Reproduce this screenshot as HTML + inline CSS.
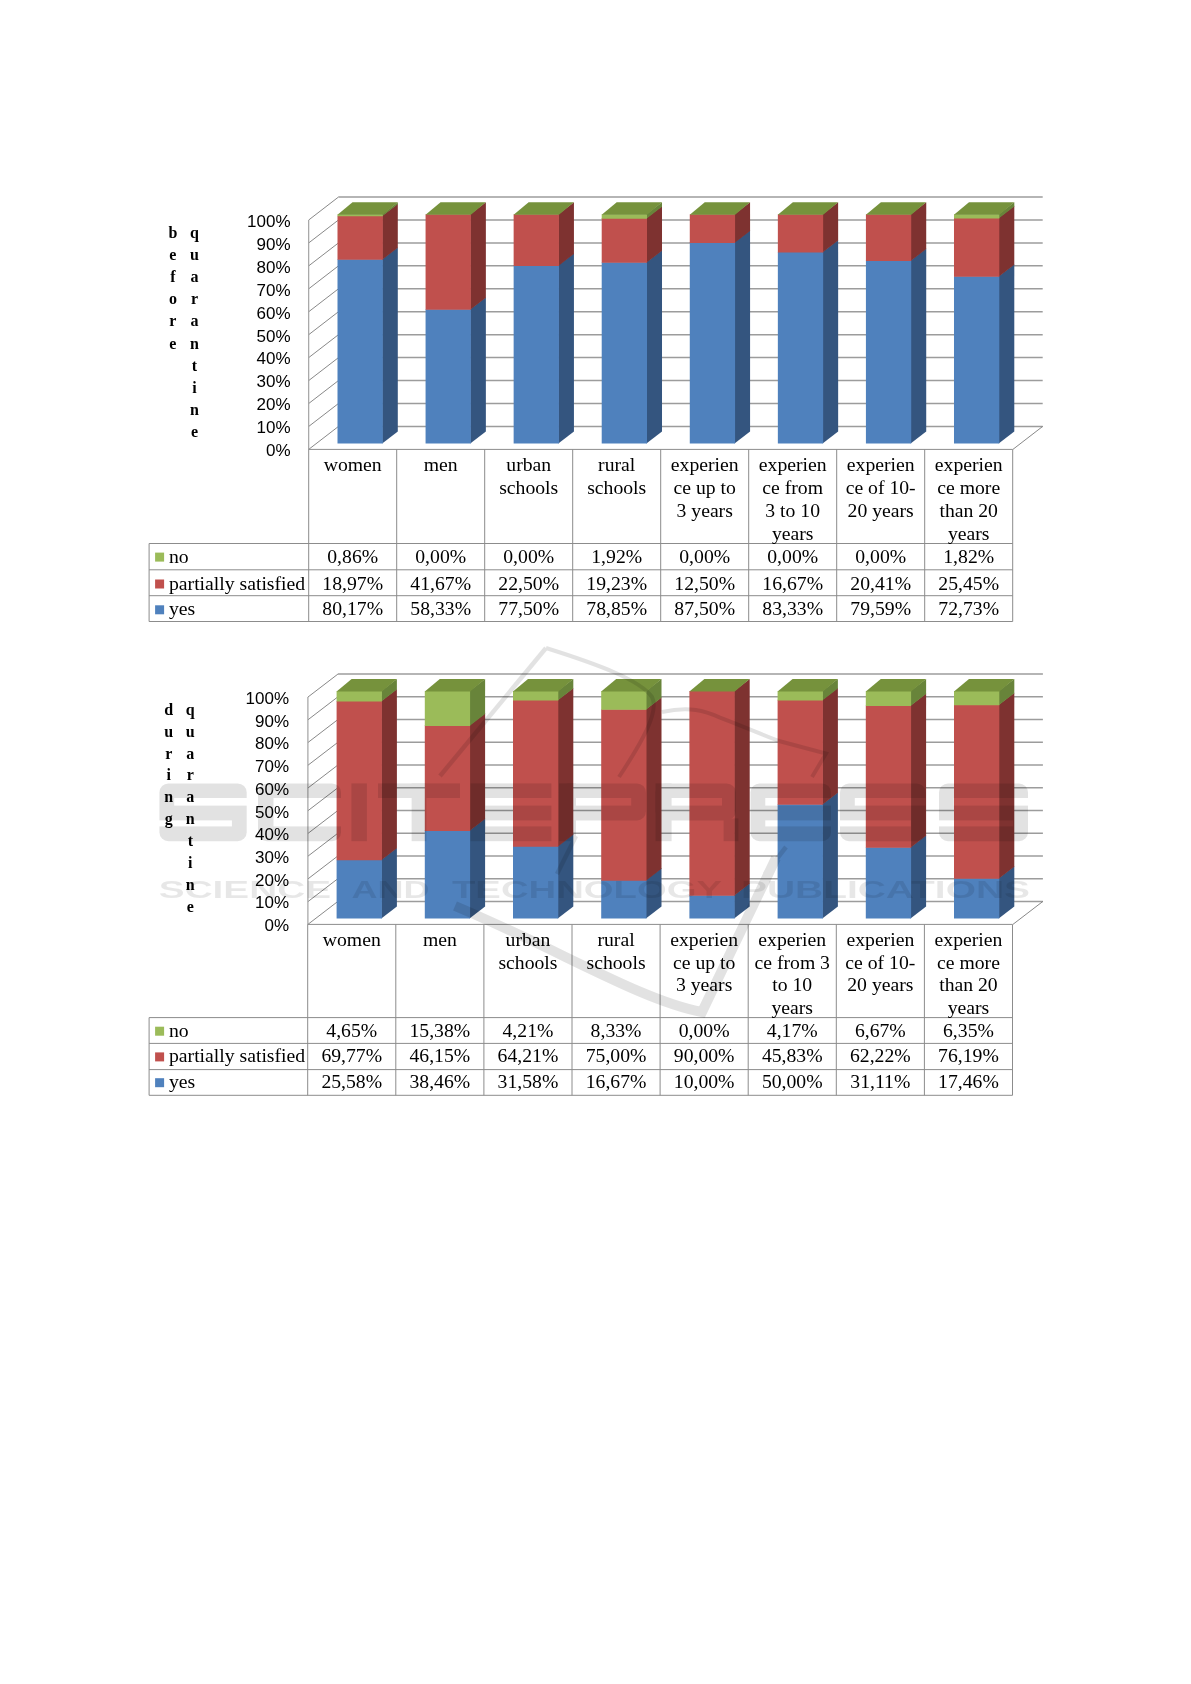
<!DOCTYPE html>
<html><head><meta charset="utf-8"><style>
html,body{margin:0;padding:0;background:#fff;}
svg{display:block;will-change:transform;}
.ax{font-family:"Liberation Sans",sans-serif;font-size:17px;fill:#000;}
.vw{font-family:"Liberation Serif",serif;font-size:16px;font-weight:bold;fill:#000;}
.tb{font-family:"Liberation Serif",serif;font-size:19.7px;fill:#000;}
</style></head><body>
<svg width="1191" height="1684" viewBox="0 0 1191 1684">
<rect width="1191" height="1684" fill="#fff"/>
<line x1="338.5" y1="426.4" x2="1042.7" y2="426.4" stroke="#9C9C9C" stroke-width="1.5"/>
<line x1="338.5" y1="403.46" x2="1042.7" y2="403.46" stroke="#9C9C9C" stroke-width="1.5"/>
<line x1="338.5" y1="380.52" x2="1042.7" y2="380.52" stroke="#9C9C9C" stroke-width="1.5"/>
<line x1="338.5" y1="357.58" x2="1042.7" y2="357.58" stroke="#9C9C9C" stroke-width="1.5"/>
<line x1="338.5" y1="334.64" x2="1042.7" y2="334.64" stroke="#9C9C9C" stroke-width="1.5"/>
<line x1="338.5" y1="311.7" x2="1042.7" y2="311.7" stroke="#9C9C9C" stroke-width="1.5"/>
<line x1="338.5" y1="288.76" x2="1042.7" y2="288.76" stroke="#9C9C9C" stroke-width="1.5"/>
<line x1="338.5" y1="265.82" x2="1042.7" y2="265.82" stroke="#9C9C9C" stroke-width="1.5"/>
<line x1="338.5" y1="242.88" x2="1042.7" y2="242.88" stroke="#9C9C9C" stroke-width="1.5"/>
<line x1="338.5" y1="219.94" x2="1042.7" y2="219.94" stroke="#9C9C9C" stroke-width="1.5"/>
<line x1="338.5" y1="197" x2="1042.7" y2="197" stroke="#9C9C9C" stroke-width="1.5"/>
<line x1="308.7" y1="449.4" x2="338.5" y2="426.4" stroke="#7A7A7A" stroke-width="0.9"/>
<line x1="308.7" y1="426.46" x2="338.5" y2="403.46" stroke="#7A7A7A" stroke-width="0.9"/>
<line x1="308.7" y1="403.52" x2="338.5" y2="380.52" stroke="#7A7A7A" stroke-width="0.9"/>
<line x1="308.7" y1="380.58" x2="338.5" y2="357.58" stroke="#7A7A7A" stroke-width="0.9"/>
<line x1="308.7" y1="357.64" x2="338.5" y2="334.64" stroke="#7A7A7A" stroke-width="0.9"/>
<line x1="308.7" y1="334.7" x2="338.5" y2="311.7" stroke="#7A7A7A" stroke-width="0.9"/>
<line x1="308.7" y1="311.76" x2="338.5" y2="288.76" stroke="#7A7A7A" stroke-width="0.9"/>
<line x1="308.7" y1="288.82" x2="338.5" y2="265.82" stroke="#7A7A7A" stroke-width="0.9"/>
<line x1="308.7" y1="265.88" x2="338.5" y2="242.88" stroke="#7A7A7A" stroke-width="0.9"/>
<line x1="308.7" y1="242.94" x2="338.5" y2="219.94" stroke="#7A7A7A" stroke-width="0.9"/>
<line x1="308.7" y1="220" x2="338.5" y2="197" stroke="#7A7A7A" stroke-width="0.9"/>
<line x1="308.7" y1="449.4" x2="308.7" y2="220" stroke="#9A9A9A" stroke-width="1.1"/>
<line x1="1012.9" y1="449.4" x2="1042.7" y2="426.4" stroke="#7A7A7A" stroke-width="0.9"/>
<polygon points="382.2,443.6 397.8,431.6 397.8,247.17 382.2,259.17" fill="#34557F"/>
<polygon points="337.5,443.6 382.8,443.6 382.8,259.17 337.5,259.17" fill="#4F81BD"/>
<polygon points="382.2,259.77 397.8,247.77 397.8,203.67 382.2,215.67" fill="#7E3230"/>
<polygon points="337.5,259.77 382.8,259.77 382.8,215.67 337.5,215.67" fill="#C0504D"/>
<polygon points="382.2,216.27 397.8,204.27 397.8,202.3 382.2,214.3" fill="#68843A"/>
<polygon points="337.5,216.27 382.8,216.27 382.8,214.3 337.5,214.3" fill="#9BBB59"/>
<polygon points="337.5,214.8 382.8,214.8 397.8,202.3 352.5,202.3" fill="#76923C"/>
<polygon points="470.27,443.6 485.87,431.6 485.87,297.25 470.27,309.25" fill="#34557F"/>
<polygon points="425.57,443.6 470.87,443.6 470.87,309.25 425.57,309.25" fill="#4F81BD"/>
<polygon points="470.27,309.85 485.87,297.85 485.87,202.3 470.27,214.3" fill="#7E3230"/>
<polygon points="425.57,309.85 470.87,309.85 470.87,214.3 425.57,214.3" fill="#C0504D"/>
<polygon points="425.57,214.8 470.87,214.8 485.87,202.3 440.57,202.3" fill="#76923C"/>
<polygon points="558.34,443.6 573.94,431.6 573.94,253.29 558.34,265.29" fill="#34557F"/>
<polygon points="513.64,443.6 558.94,443.6 558.94,265.29 513.64,265.29" fill="#4F81BD"/>
<polygon points="558.34,265.89 573.94,253.89 573.94,202.3 558.34,214.3" fill="#7E3230"/>
<polygon points="513.64,265.89 558.94,265.89 558.94,214.3 513.64,214.3" fill="#C0504D"/>
<polygon points="513.64,214.8 558.94,214.8 573.94,202.3 528.64,202.3" fill="#76923C"/>
<polygon points="646.41,443.6 662.01,431.6 662.01,250.2 646.41,262.2" fill="#34557F"/>
<polygon points="601.71,443.6 647.01,443.6 647.01,262.2 601.71,262.2" fill="#4F81BD"/>
<polygon points="646.41,262.8 662.01,250.8 662.01,206.1 646.41,218.1" fill="#7E3230"/>
<polygon points="601.71,262.8 647.01,262.8 647.01,218.1 601.71,218.1" fill="#C0504D"/>
<polygon points="646.41,218.7 662.01,206.7 662.01,202.3 646.41,214.3" fill="#68843A"/>
<polygon points="601.71,218.7 647.01,218.7 647.01,214.3 601.71,214.3" fill="#9BBB59"/>
<polygon points="601.71,214.8 647.01,214.8 662.01,202.3 616.71,202.3" fill="#76923C"/>
<polygon points="734.48,443.6 750.08,431.6 750.08,230.36 734.48,242.36" fill="#34557F"/>
<polygon points="689.78,443.6 735.08,443.6 735.08,242.36 689.78,242.36" fill="#4F81BD"/>
<polygon points="734.48,242.96 750.08,230.96 750.08,202.3 734.48,214.3" fill="#7E3230"/>
<polygon points="689.78,242.96 735.08,242.96 735.08,214.3 689.78,214.3" fill="#C0504D"/>
<polygon points="689.78,214.8 735.08,214.8 750.08,202.3 704.78,202.3" fill="#76923C"/>
<polygon points="822.55,443.6 838.15,431.6 838.15,239.92 822.55,251.92" fill="#34557F"/>
<polygon points="777.85,443.6 823.15,443.6 823.15,251.92 777.85,251.92" fill="#4F81BD"/>
<polygon points="822.55,252.52 838.15,240.52 838.15,202.3 822.55,214.3" fill="#7E3230"/>
<polygon points="777.85,252.52 823.15,252.52 823.15,214.3 777.85,214.3" fill="#C0504D"/>
<polygon points="777.85,214.8 823.15,214.8 838.15,202.3 792.85,202.3" fill="#76923C"/>
<polygon points="910.62,443.6 926.22,431.6 926.22,248.5 910.62,260.5" fill="#34557F"/>
<polygon points="865.92,443.6 911.22,443.6 911.22,260.5 865.92,260.5" fill="#4F81BD"/>
<polygon points="910.62,261.1 926.22,249.1 926.22,202.3 910.62,214.3" fill="#7E3230"/>
<polygon points="865.92,261.1 911.22,261.1 911.22,214.3 865.92,214.3" fill="#C0504D"/>
<polygon points="865.92,214.8 911.22,214.8 926.22,202.3 880.92,202.3" fill="#76923C"/>
<polygon points="998.69,443.6 1014.29,431.6 1014.29,264.23 998.69,276.23" fill="#34557F"/>
<polygon points="953.99,443.6 999.29,443.6 999.29,276.23 953.99,276.23" fill="#4F81BD"/>
<polygon points="998.69,276.83 1014.29,264.83 1014.29,205.87 998.69,217.87" fill="#7E3230"/>
<polygon points="953.99,276.83 999.29,276.83 999.29,217.87 953.99,217.87" fill="#C0504D"/>
<polygon points="998.69,218.47 1014.29,206.47 1014.29,202.3 998.69,214.3" fill="#68843A"/>
<polygon points="953.99,218.47 999.29,218.47 999.29,214.3 953.99,214.3" fill="#9BBB59"/>
<polygon points="953.99,214.8 999.29,214.8 1014.29,202.3 968.99,202.3" fill="#76923C"/>
<text x="290.5" y="456.2" text-anchor="end" class="ax">0%</text>
<text x="290.5" y="433.26" text-anchor="end" class="ax">10%</text>
<text x="290.5" y="410.32" text-anchor="end" class="ax">20%</text>
<text x="290.5" y="387.38" text-anchor="end" class="ax">30%</text>
<text x="290.5" y="364.44" text-anchor="end" class="ax">40%</text>
<text x="290.5" y="341.5" text-anchor="end" class="ax">50%</text>
<text x="290.5" y="318.56" text-anchor="end" class="ax">60%</text>
<text x="290.5" y="295.62" text-anchor="end" class="ax">70%</text>
<text x="290.5" y="272.68" text-anchor="end" class="ax">80%</text>
<text x="290.5" y="249.74" text-anchor="end" class="ax">90%</text>
<text x="290.5" y="226.8" text-anchor="end" class="ax">100%</text>
<text x="172.9" y="237.6" text-anchor="middle" class="vw">b</text>
<text x="172.9" y="259.78" text-anchor="middle" class="vw">e</text>
<text x="172.9" y="281.96" text-anchor="middle" class="vw">f</text>
<text x="172.9" y="304.14" text-anchor="middle" class="vw">o</text>
<text x="172.9" y="326.32" text-anchor="middle" class="vw">r</text>
<text x="172.9" y="348.5" text-anchor="middle" class="vw">e</text>
<text x="194.5" y="237.6" text-anchor="middle" class="vw">q</text>
<text x="194.5" y="259.78" text-anchor="middle" class="vw">u</text>
<text x="194.5" y="281.96" text-anchor="middle" class="vw">a</text>
<text x="194.5" y="304.14" text-anchor="middle" class="vw">r</text>
<text x="194.5" y="326.32" text-anchor="middle" class="vw">a</text>
<text x="194.5" y="348.5" text-anchor="middle" class="vw">n</text>
<text x="194.5" y="370.68" text-anchor="middle" class="vw">t</text>
<text x="194.5" y="392.86" text-anchor="middle" class="vw">i</text>
<text x="194.5" y="415.04" text-anchor="middle" class="vw">n</text>
<text x="194.5" y="437.22" text-anchor="middle" class="vw">e</text>
<line x1="308.7" y1="449.4" x2="308.7" y2="621.5" stroke="#8C8C8C" stroke-width="1"/>
<line x1="396.7" y1="449.4" x2="396.7" y2="621.5" stroke="#8C8C8C" stroke-width="1"/>
<line x1="484.7" y1="449.4" x2="484.7" y2="621.5" stroke="#8C8C8C" stroke-width="1"/>
<line x1="572.7" y1="449.4" x2="572.7" y2="621.5" stroke="#8C8C8C" stroke-width="1"/>
<line x1="660.7" y1="449.4" x2="660.7" y2="621.5" stroke="#8C8C8C" stroke-width="1"/>
<line x1="748.7" y1="449.4" x2="748.7" y2="621.5" stroke="#8C8C8C" stroke-width="1"/>
<line x1="836.7" y1="449.4" x2="836.7" y2="621.5" stroke="#8C8C8C" stroke-width="1"/>
<line x1="924.7" y1="449.4" x2="924.7" y2="621.5" stroke="#8C8C8C" stroke-width="1"/>
<line x1="1012.7" y1="449.4" x2="1012.7" y2="621.5" stroke="#8C8C8C" stroke-width="1"/>
<line x1="149.1" y1="543.5" x2="149.1" y2="621.5" stroke="#8C8C8C" stroke-width="1"/>
<line x1="308.7" y1="449.4" x2="1012.7" y2="449.4" stroke="#8C8C8C" stroke-width="1"/>
<line x1="149.1" y1="543.5" x2="1012.7" y2="543.5" stroke="#8C8C8C" stroke-width="1"/>
<line x1="149.1" y1="569.8" x2="1012.7" y2="569.8" stroke="#8C8C8C" stroke-width="1"/>
<line x1="149.1" y1="595.7" x2="1012.7" y2="595.7" stroke="#8C8C8C" stroke-width="1"/>
<line x1="149.1" y1="621.5" x2="1012.7" y2="621.5" stroke="#8C8C8C" stroke-width="1"/>
<text x="352.7" y="471" text-anchor="middle" class="tb">women</text>
<text x="440.7" y="471" text-anchor="middle" class="tb">men</text>
<text x="528.7" y="471" text-anchor="middle" class="tb">urban</text>
<text x="528.7" y="493.9" text-anchor="middle" class="tb">schools</text>
<text x="616.7" y="471" text-anchor="middle" class="tb">rural</text>
<text x="616.7" y="493.9" text-anchor="middle" class="tb">schools</text>
<text x="704.7" y="471" text-anchor="middle" class="tb">experien</text>
<text x="704.7" y="493.9" text-anchor="middle" class="tb">ce up to</text>
<text x="704.7" y="516.8" text-anchor="middle" class="tb">3 years</text>
<text x="792.7" y="471" text-anchor="middle" class="tb">experien</text>
<text x="792.7" y="493.9" text-anchor="middle" class="tb">ce from</text>
<text x="792.7" y="516.8" text-anchor="middle" class="tb">3 to 10</text>
<text x="792.7" y="539.7" text-anchor="middle" class="tb">years</text>
<text x="880.7" y="471" text-anchor="middle" class="tb">experien</text>
<text x="880.7" y="493.9" text-anchor="middle" class="tb">ce of 10-</text>
<text x="880.7" y="516.8" text-anchor="middle" class="tb">20 years</text>
<text x="968.7" y="471" text-anchor="middle" class="tb">experien</text>
<text x="968.7" y="493.9" text-anchor="middle" class="tb">ce more</text>
<text x="968.7" y="516.8" text-anchor="middle" class="tb">than 20</text>
<text x="968.7" y="539.7" text-anchor="middle" class="tb">years</text>
<rect x="155.1" y="552.6" width="9" height="9" fill="#9BBB59"/>
<text x="169" y="562.6" class="tb">no</text>
<text x="352.7" y="562.6" text-anchor="middle" class="tb">0,86%</text>
<text x="440.7" y="562.6" text-anchor="middle" class="tb">0,00%</text>
<text x="528.7" y="562.6" text-anchor="middle" class="tb">0,00%</text>
<text x="616.7" y="562.6" text-anchor="middle" class="tb">1,92%</text>
<text x="704.7" y="562.6" text-anchor="middle" class="tb">0,00%</text>
<text x="792.7" y="562.6" text-anchor="middle" class="tb">0,00%</text>
<text x="880.7" y="562.6" text-anchor="middle" class="tb">0,00%</text>
<text x="968.7" y="562.6" text-anchor="middle" class="tb">1,82%</text>
<rect x="155.1" y="579.5" width="9" height="9" fill="#C0504D"/>
<text x="169" y="589.5" class="tb">partially satisfied</text>
<text x="352.7" y="589.5" text-anchor="middle" class="tb">18,97%</text>
<text x="440.7" y="589.5" text-anchor="middle" class="tb">41,67%</text>
<text x="528.7" y="589.5" text-anchor="middle" class="tb">22,50%</text>
<text x="616.7" y="589.5" text-anchor="middle" class="tb">19,23%</text>
<text x="704.7" y="589.5" text-anchor="middle" class="tb">12,50%</text>
<text x="792.7" y="589.5" text-anchor="middle" class="tb">16,67%</text>
<text x="880.7" y="589.5" text-anchor="middle" class="tb">20,41%</text>
<text x="968.7" y="589.5" text-anchor="middle" class="tb">25,45%</text>
<rect x="155.1" y="605.3" width="9" height="9" fill="#4F81BD"/>
<text x="169" y="615.3" class="tb">yes</text>
<text x="352.7" y="615.3" text-anchor="middle" class="tb">80,17%</text>
<text x="440.7" y="615.3" text-anchor="middle" class="tb">58,33%</text>
<text x="528.7" y="615.3" text-anchor="middle" class="tb">77,50%</text>
<text x="616.7" y="615.3" text-anchor="middle" class="tb">78,85%</text>
<text x="704.7" y="615.3" text-anchor="middle" class="tb">87,50%</text>
<text x="792.7" y="615.3" text-anchor="middle" class="tb">83,33%</text>
<text x="880.7" y="615.3" text-anchor="middle" class="tb">79,59%</text>
<text x="968.7" y="615.3" text-anchor="middle" class="tb">72,73%</text>
<line x1="337.9" y1="901.4" x2="1042.9" y2="901.4" stroke="#9C9C9C" stroke-width="1.5"/>
<line x1="337.9" y1="878.67" x2="1042.9" y2="878.67" stroke="#9C9C9C" stroke-width="1.5"/>
<line x1="337.9" y1="855.94" x2="1042.9" y2="855.94" stroke="#9C9C9C" stroke-width="1.5"/>
<line x1="337.9" y1="833.21" x2="1042.9" y2="833.21" stroke="#9C9C9C" stroke-width="1.5"/>
<line x1="337.9" y1="810.48" x2="1042.9" y2="810.48" stroke="#9C9C9C" stroke-width="1.5"/>
<line x1="337.9" y1="787.75" x2="1042.9" y2="787.75" stroke="#9C9C9C" stroke-width="1.5"/>
<line x1="337.9" y1="765.02" x2="1042.9" y2="765.02" stroke="#9C9C9C" stroke-width="1.5"/>
<line x1="337.9" y1="742.29" x2="1042.9" y2="742.29" stroke="#9C9C9C" stroke-width="1.5"/>
<line x1="337.9" y1="719.56" x2="1042.9" y2="719.56" stroke="#9C9C9C" stroke-width="1.5"/>
<line x1="337.9" y1="696.83" x2="1042.9" y2="696.83" stroke="#9C9C9C" stroke-width="1.5"/>
<line x1="337.9" y1="674.1" x2="1042.9" y2="674.1" stroke="#9C9C9C" stroke-width="1.5"/>
<line x1="307.9" y1="924.4" x2="337.9" y2="901.4" stroke="#7A7A7A" stroke-width="0.9"/>
<line x1="307.9" y1="901.67" x2="337.9" y2="878.67" stroke="#7A7A7A" stroke-width="0.9"/>
<line x1="307.9" y1="878.94" x2="337.9" y2="855.94" stroke="#7A7A7A" stroke-width="0.9"/>
<line x1="307.9" y1="856.21" x2="337.9" y2="833.21" stroke="#7A7A7A" stroke-width="0.9"/>
<line x1="307.9" y1="833.48" x2="337.9" y2="810.48" stroke="#7A7A7A" stroke-width="0.9"/>
<line x1="307.9" y1="810.75" x2="337.9" y2="787.75" stroke="#7A7A7A" stroke-width="0.9"/>
<line x1="307.9" y1="788.02" x2="337.9" y2="765.02" stroke="#7A7A7A" stroke-width="0.9"/>
<line x1="307.9" y1="765.29" x2="337.9" y2="742.29" stroke="#7A7A7A" stroke-width="0.9"/>
<line x1="307.9" y1="742.56" x2="337.9" y2="719.56" stroke="#7A7A7A" stroke-width="0.9"/>
<line x1="307.9" y1="719.83" x2="337.9" y2="696.83" stroke="#7A7A7A" stroke-width="0.9"/>
<line x1="307.9" y1="697.1" x2="337.9" y2="674.1" stroke="#7A7A7A" stroke-width="0.9"/>
<line x1="307.9" y1="924.4" x2="307.9" y2="697.1" stroke="#9A9A9A" stroke-width="1.1"/>
<line x1="1012.9" y1="924.4" x2="1042.9" y2="901.4" stroke="#7A7A7A" stroke-width="0.9"/>
<polygon points="381.3,918.6 396.9,906.6 396.9,847.75 381.3,859.75" fill="#34557F"/>
<polygon points="336.6,918.6 381.9,918.6 381.9,859.75 336.6,859.75" fill="#4F81BD"/>
<polygon points="381.3,860.35 396.9,848.35 396.9,688.89 381.3,700.89" fill="#7E3230"/>
<polygon points="336.6,860.35 381.9,860.35 381.9,700.89 336.6,700.89" fill="#C0504D"/>
<polygon points="381.3,701.49 396.9,689.49 396.9,678.9 381.3,690.9" fill="#68843A"/>
<polygon points="336.6,701.49 381.9,701.49 381.9,690.9 336.6,690.9" fill="#9BBB59"/>
<polygon points="336.6,691.4 381.9,691.4 396.9,678.9 351.6,678.9" fill="#76923C"/>
<polygon points="469.5,918.6 485.1,906.6 485.1,818.42 469.5,830.42" fill="#34557F"/>
<polygon points="424.8,918.6 470.1,918.6 470.1,830.42 424.8,830.42" fill="#4F81BD"/>
<polygon points="469.5,831.02 485.1,819.02 485.1,713.32 469.5,725.32" fill="#7E3230"/>
<polygon points="424.8,831.02 470.1,831.02 470.1,725.32 424.8,725.32" fill="#C0504D"/>
<polygon points="469.5,725.92 485.1,713.92 485.1,678.9 469.5,690.9" fill="#68843A"/>
<polygon points="424.8,725.92 470.1,725.92 470.1,690.9 424.8,690.9" fill="#9BBB59"/>
<polygon points="424.8,691.4 470.1,691.4 485.1,678.9 439.8,678.9" fill="#76923C"/>
<polygon points="557.7,918.6 573.3,906.6 573.3,834.09 557.7,846.09" fill="#34557F"/>
<polygon points="513,918.6 558.3,918.6 558.3,846.09 513,846.09" fill="#4F81BD"/>
<polygon points="557.7,846.69 573.3,834.69 573.3,687.89 557.7,699.89" fill="#7E3230"/>
<polygon points="513,846.69 558.3,846.69 558.3,699.89 513,699.89" fill="#C0504D"/>
<polygon points="557.7,700.49 573.3,688.49 573.3,678.9 557.7,690.9" fill="#68843A"/>
<polygon points="513,700.49 558.3,700.49 558.3,690.9 513,690.9" fill="#9BBB59"/>
<polygon points="513,691.4 558.3,691.4 573.3,678.9 528,678.9" fill="#76923C"/>
<polygon points="645.9,918.6 661.5,906.6 661.5,868.04 645.9,880.04" fill="#34557F"/>
<polygon points="601.2,918.6 646.5,918.6 646.5,880.04 601.2,880.04" fill="#4F81BD"/>
<polygon points="645.9,880.64 661.5,868.64 661.5,697.27 645.9,709.27" fill="#7E3230"/>
<polygon points="601.2,880.64 646.5,880.64 646.5,709.27 601.2,709.27" fill="#C0504D"/>
<polygon points="645.9,709.87 661.5,697.87 661.5,678.9 645.9,690.9" fill="#68843A"/>
<polygon points="601.2,709.87 646.5,709.87 646.5,690.9 601.2,690.9" fill="#9BBB59"/>
<polygon points="601.2,691.4 646.5,691.4 661.5,678.9 616.2,678.9" fill="#76923C"/>
<polygon points="734.1,918.6 749.7,906.6 749.7,883.23 734.1,895.23" fill="#34557F"/>
<polygon points="689.4,918.6 734.7,918.6 734.7,895.23 689.4,895.23" fill="#4F81BD"/>
<polygon points="734.1,895.83 749.7,883.83 749.7,678.9 734.1,690.9" fill="#7E3230"/>
<polygon points="689.4,895.83 734.7,895.83 734.7,690.9 689.4,690.9" fill="#C0504D"/>
<polygon points="689.4,691.4 734.7,691.4 749.7,678.9 704.4,678.9" fill="#76923C"/>
<polygon points="822.3,918.6 837.9,906.6 837.9,792.15 822.3,804.15" fill="#34557F"/>
<polygon points="777.6,918.6 822.9,918.6 822.9,804.15 777.6,804.15" fill="#4F81BD"/>
<polygon points="822.3,804.75 837.9,792.75 837.9,687.8 822.3,699.8" fill="#7E3230"/>
<polygon points="777.6,804.75 822.9,804.75 822.9,699.8 777.6,699.8" fill="#C0504D"/>
<polygon points="822.3,700.4 837.9,688.4 837.9,678.9 822.3,690.9" fill="#68843A"/>
<polygon points="777.6,700.4 822.9,700.4 822.9,690.9 777.6,690.9" fill="#9BBB59"/>
<polygon points="777.6,691.4 822.9,691.4 837.9,678.9 792.6,678.9" fill="#76923C"/>
<polygon points="910.5,918.6 926.1,906.6 926.1,835.16 910.5,847.16" fill="#34557F"/>
<polygon points="865.8,918.6 911.1,918.6 911.1,847.16 865.8,847.16" fill="#4F81BD"/>
<polygon points="910.5,847.76 926.1,835.76 926.1,693.49 910.5,705.49" fill="#7E3230"/>
<polygon points="865.8,847.76 911.1,847.76 911.1,705.49 865.8,705.49" fill="#C0504D"/>
<polygon points="910.5,706.09 926.1,694.09 926.1,678.9 910.5,690.9" fill="#68843A"/>
<polygon points="865.8,706.09 911.1,706.09 911.1,690.9 865.8,690.9" fill="#9BBB59"/>
<polygon points="865.8,691.4 911.1,691.4 926.1,678.9 880.8,678.9" fill="#76923C"/>
<polygon points="998.7,918.6 1014.3,906.6 1014.3,866.24 998.7,878.24" fill="#34557F"/>
<polygon points="954,918.6 999.3,918.6 999.3,878.24 954,878.24" fill="#4F81BD"/>
<polygon points="998.7,878.84 1014.3,866.84 1014.3,692.76 998.7,704.76" fill="#7E3230"/>
<polygon points="954,878.84 999.3,878.84 999.3,704.76 954,704.76" fill="#C0504D"/>
<polygon points="998.7,705.36 1014.3,693.36 1014.3,678.9 998.7,690.9" fill="#68843A"/>
<polygon points="954,705.36 999.3,705.36 999.3,690.9 954,690.9" fill="#9BBB59"/>
<polygon points="954,691.4 999.3,691.4 1014.3,678.9 969,678.9" fill="#76923C"/>
<text x="289" y="931.2" text-anchor="end" class="ax">0%</text>
<text x="289" y="908.47" text-anchor="end" class="ax">10%</text>
<text x="289" y="885.74" text-anchor="end" class="ax">20%</text>
<text x="289" y="863.01" text-anchor="end" class="ax">30%</text>
<text x="289" y="840.28" text-anchor="end" class="ax">40%</text>
<text x="289" y="817.55" text-anchor="end" class="ax">50%</text>
<text x="289" y="794.82" text-anchor="end" class="ax">60%</text>
<text x="289" y="772.09" text-anchor="end" class="ax">70%</text>
<text x="289" y="749.36" text-anchor="end" class="ax">80%</text>
<text x="289" y="726.63" text-anchor="end" class="ax">90%</text>
<text x="289" y="703.9" text-anchor="end" class="ax">100%</text>
<text x="168.7" y="714.7" text-anchor="middle" class="vw">d</text>
<text x="168.7" y="736.6" text-anchor="middle" class="vw">u</text>
<text x="168.7" y="758.5" text-anchor="middle" class="vw">r</text>
<text x="168.7" y="780.4" text-anchor="middle" class="vw">i</text>
<text x="168.7" y="802.3" text-anchor="middle" class="vw">n</text>
<text x="168.7" y="824.2" text-anchor="middle" class="vw">g</text>
<text x="190.3" y="714.7" text-anchor="middle" class="vw">q</text>
<text x="190.3" y="736.6" text-anchor="middle" class="vw">u</text>
<text x="190.3" y="758.5" text-anchor="middle" class="vw">a</text>
<text x="190.3" y="780.4" text-anchor="middle" class="vw">r</text>
<text x="190.3" y="802.3" text-anchor="middle" class="vw">a</text>
<text x="190.3" y="824.2" text-anchor="middle" class="vw">n</text>
<text x="190.3" y="846.1" text-anchor="middle" class="vw">t</text>
<text x="190.3" y="868" text-anchor="middle" class="vw">i</text>
<text x="190.3" y="889.9" text-anchor="middle" class="vw">n</text>
<text x="190.3" y="911.8" text-anchor="middle" class="vw">e</text>
<line x1="307.7" y1="924.4" x2="307.7" y2="1095.3" stroke="#8C8C8C" stroke-width="1"/>
<line x1="395.8" y1="924.4" x2="395.8" y2="1095.3" stroke="#8C8C8C" stroke-width="1"/>
<line x1="483.9" y1="924.4" x2="483.9" y2="1095.3" stroke="#8C8C8C" stroke-width="1"/>
<line x1="572" y1="924.4" x2="572" y2="1095.3" stroke="#8C8C8C" stroke-width="1"/>
<line x1="660.1" y1="924.4" x2="660.1" y2="1095.3" stroke="#8C8C8C" stroke-width="1"/>
<line x1="748.2" y1="924.4" x2="748.2" y2="1095.3" stroke="#8C8C8C" stroke-width="1"/>
<line x1="836.3" y1="924.4" x2="836.3" y2="1095.3" stroke="#8C8C8C" stroke-width="1"/>
<line x1="924.4" y1="924.4" x2="924.4" y2="1095.3" stroke="#8C8C8C" stroke-width="1"/>
<line x1="1012.5" y1="924.4" x2="1012.5" y2="1095.3" stroke="#8C8C8C" stroke-width="1"/>
<line x1="149.1" y1="1017.6" x2="149.1" y2="1095.3" stroke="#8C8C8C" stroke-width="1"/>
<line x1="307.7" y1="924.4" x2="1012.5" y2="924.4" stroke="#8C8C8C" stroke-width="1"/>
<line x1="149.1" y1="1017.6" x2="1012.5" y2="1017.6" stroke="#8C8C8C" stroke-width="1"/>
<line x1="149.1" y1="1043.4" x2="1012.5" y2="1043.4" stroke="#8C8C8C" stroke-width="1"/>
<line x1="149.1" y1="1069.6" x2="1012.5" y2="1069.6" stroke="#8C8C8C" stroke-width="1"/>
<line x1="149.1" y1="1095.3" x2="1012.5" y2="1095.3" stroke="#8C8C8C" stroke-width="1"/>
<text x="351.75" y="946" text-anchor="middle" class="tb">women</text>
<text x="439.85" y="946" text-anchor="middle" class="tb">men</text>
<text x="527.95" y="946" text-anchor="middle" class="tb">urban</text>
<text x="527.95" y="968.7" text-anchor="middle" class="tb">schools</text>
<text x="616.05" y="946" text-anchor="middle" class="tb">rural</text>
<text x="616.05" y="968.7" text-anchor="middle" class="tb">schools</text>
<text x="704.15" y="946" text-anchor="middle" class="tb">experien</text>
<text x="704.15" y="968.7" text-anchor="middle" class="tb">ce up to</text>
<text x="704.15" y="991.4" text-anchor="middle" class="tb">3 years</text>
<text x="792.25" y="946" text-anchor="middle" class="tb">experien</text>
<text x="792.25" y="968.7" text-anchor="middle" class="tb">ce from 3</text>
<text x="792.25" y="991.4" text-anchor="middle" class="tb">to 10</text>
<text x="792.25" y="1014.1" text-anchor="middle" class="tb">years</text>
<text x="880.35" y="946" text-anchor="middle" class="tb">experien</text>
<text x="880.35" y="968.7" text-anchor="middle" class="tb">ce of 10-</text>
<text x="880.35" y="991.4" text-anchor="middle" class="tb">20 years</text>
<text x="968.45" y="946" text-anchor="middle" class="tb">experien</text>
<text x="968.45" y="968.7" text-anchor="middle" class="tb">ce more</text>
<text x="968.45" y="991.4" text-anchor="middle" class="tb">than 20</text>
<text x="968.45" y="1014.1" text-anchor="middle" class="tb">years</text>
<rect x="155.1" y="1026.7" width="9" height="9" fill="#9BBB59"/>
<text x="169" y="1036.7" class="tb">no</text>
<text x="351.75" y="1036.7" text-anchor="middle" class="tb">4,65%</text>
<text x="439.85" y="1036.7" text-anchor="middle" class="tb">15,38%</text>
<text x="527.95" y="1036.7" text-anchor="middle" class="tb">4,21%</text>
<text x="616.05" y="1036.7" text-anchor="middle" class="tb">8,33%</text>
<text x="704.15" y="1036.7" text-anchor="middle" class="tb">0,00%</text>
<text x="792.25" y="1036.7" text-anchor="middle" class="tb">4,17%</text>
<text x="880.35" y="1036.7" text-anchor="middle" class="tb">6,67%</text>
<text x="968.45" y="1036.7" text-anchor="middle" class="tb">6,35%</text>
<rect x="155.1" y="1052.4" width="9" height="9" fill="#C0504D"/>
<text x="169" y="1062.4" class="tb">partially satisfied</text>
<text x="351.75" y="1062.4" text-anchor="middle" class="tb">69,77%</text>
<text x="439.85" y="1062.4" text-anchor="middle" class="tb">46,15%</text>
<text x="527.95" y="1062.4" text-anchor="middle" class="tb">64,21%</text>
<text x="616.05" y="1062.4" text-anchor="middle" class="tb">75,00%</text>
<text x="704.15" y="1062.4" text-anchor="middle" class="tb">90,00%</text>
<text x="792.25" y="1062.4" text-anchor="middle" class="tb">45,83%</text>
<text x="880.35" y="1062.4" text-anchor="middle" class="tb">62,22%</text>
<text x="968.45" y="1062.4" text-anchor="middle" class="tb">76,19%</text>
<rect x="155.1" y="1078.2" width="9" height="9" fill="#4F81BD"/>
<text x="169" y="1088.2" class="tb">yes</text>
<text x="351.75" y="1088.2" text-anchor="middle" class="tb">25,58%</text>
<text x="439.85" y="1088.2" text-anchor="middle" class="tb">38,46%</text>
<text x="527.95" y="1088.2" text-anchor="middle" class="tb">31,58%</text>
<text x="616.05" y="1088.2" text-anchor="middle" class="tb">16,67%</text>
<text x="704.15" y="1088.2" text-anchor="middle" class="tb">10,00%</text>
<text x="792.25" y="1088.2" text-anchor="middle" class="tb">50,00%</text>
<text x="880.35" y="1088.2" text-anchor="middle" class="tb">31,11%</text>
<text x="968.45" y="1088.2" text-anchor="middle" class="tb">17,46%</text>
<defs><mask id="wmS" maskUnits="userSpaceOnUse" x="0" y="0" width="1191" height="1684"><rect x="0" y="0" width="1191" height="1684" fill="#000"/><rect x="159.4" y="783.4" width="87.3" height="57.8" rx="9" fill="#fff"/><rect x="174.2" y="798.0" width="73.5" height="7.6" rx="0" fill="#000"/><rect x="158.4" y="820.4" width="73.5" height="6.0" rx="0" fill="#000"/><rect x="258.0" y="783.4" width="83.0" height="57.8" rx="9" fill="#fff"/><rect x="273.5" y="798.0" width="68.5" height="28.4" rx="0" fill="#000"/><rect x="351.4" y="783.4" width="15.5" height="57.8" rx="0" fill="#fff"/><rect x="378.0" y="783.4" width="82.0" height="14.6" rx="0" fill="#fff"/><rect x="411.6" y="783.4" width="14.8" height="57.8" rx="0" fill="#fff"/><rect x="470.5" y="783.4" width="80.9" height="57.8" rx="0" fill="#fff"/><rect x="485.3" y="798.0" width="67.1" height="7.6" rx="0" fill="#000"/><rect x="485.3" y="820.4" width="67.1" height="6.0" rx="0" fill="#000"/><rect x="559.0" y="783.4" width="87.0" height="37.0" rx="9" fill="#fff"/><rect x="559.0" y="783.4" width="17.0" height="57.8" rx="0" fill="#fff"/><rect x="576.0" y="798.0" width="55.2" height="7.6" rx="0" fill="#000"/><rect x="655.5" y="783.4" width="80.2" height="37.0" rx="9" fill="#fff"/><rect x="655.5" y="783.4" width="16.1" height="57.8" rx="0" fill="#fff"/><rect x="671.6" y="798.0" width="50.4" height="7.6" rx="0" fill="#000"/><rect x="723.6" y="818.4" width="14.8" height="22.8" rx="0" fill="#fff"/><rect x="750.5" y="783.4" width="80.5" height="57.8" rx="9" fill="#fff"/><rect x="765.3" y="798.0" width="66.7" height="7.6" rx="0" fill="#000"/><rect x="765.3" y="820.4" width="66.7" height="6.0" rx="0" fill="#000"/><rect x="840.0" y="783.4" width="85.6" height="57.8" rx="9" fill="#fff"/><rect x="854.8" y="798.0" width="71.8" height="7.6" rx="0" fill="#000"/><rect x="839.0" y="820.4" width="71.8" height="6.0" rx="0" fill="#000"/><rect x="939.0" y="783.4" width="89.0" height="57.8" rx="9" fill="#fff"/><rect x="953.8" y="798.0" width="75.2" height="7.6" rx="0" fill="#000"/><rect x="938.0" y="820.4" width="75.2" height="6.0" rx="0" fill="#000"/><path d="M 440 776 L 546 648" fill="none" stroke="#fff" stroke-width="4.5"/><path d="M 546 648 C 600 665 640 680 652 697 C 660 712 640 745 619 777" fill="none" stroke="#fff" stroke-width="4"/><path d="M 576 836 L 557 874" fill="none" stroke="#fff" stroke-width="4.5"/><path d="M 662 712 C 690 706 705 711 720 717.6 C 745 727 765 736 779 741 L 826 753.5 L 812 777" fill="none" stroke="#fff" stroke-width="4"/><path d="M 786 847 L 765 874" fill="none" stroke="#fff" stroke-width="4.5"/><path d="M 455 906 C 560 950 640 1000 702 1012 L 776 858" fill="none" stroke="#fff" stroke-width="10"/></mask></defs>
<rect x="140" y="630" width="910" height="400" fill="#000" opacity="0.11" mask="url(#wmS)"/>
<g opacity="0.09" fill="#000"><text x="158.8" y="897.5" textLength="172.2" lengthAdjust="spacingAndGlyphs" style="font-family:'Liberation Sans',sans-serif;font-weight:bold;font-size:24.5px">SCIENCE</text><text x="351.5" y="897.5" textLength="78.1" lengthAdjust="spacingAndGlyphs" style="font-family:'Liberation Sans',sans-serif;font-weight:bold;font-size:24.5px">AND</text><text x="452" y="897.5" textLength="270.0" lengthAdjust="spacingAndGlyphs" style="font-family:'Liberation Sans',sans-serif;font-weight:bold;font-size:24.5px">TECHNOLOGY</text><text x="741" y="897.5" textLength="289.0" lengthAdjust="spacingAndGlyphs" style="font-family:'Liberation Sans',sans-serif;font-weight:bold;font-size:24.5px">PUBLICATIONS</text></g>
</svg>
</body></html>
